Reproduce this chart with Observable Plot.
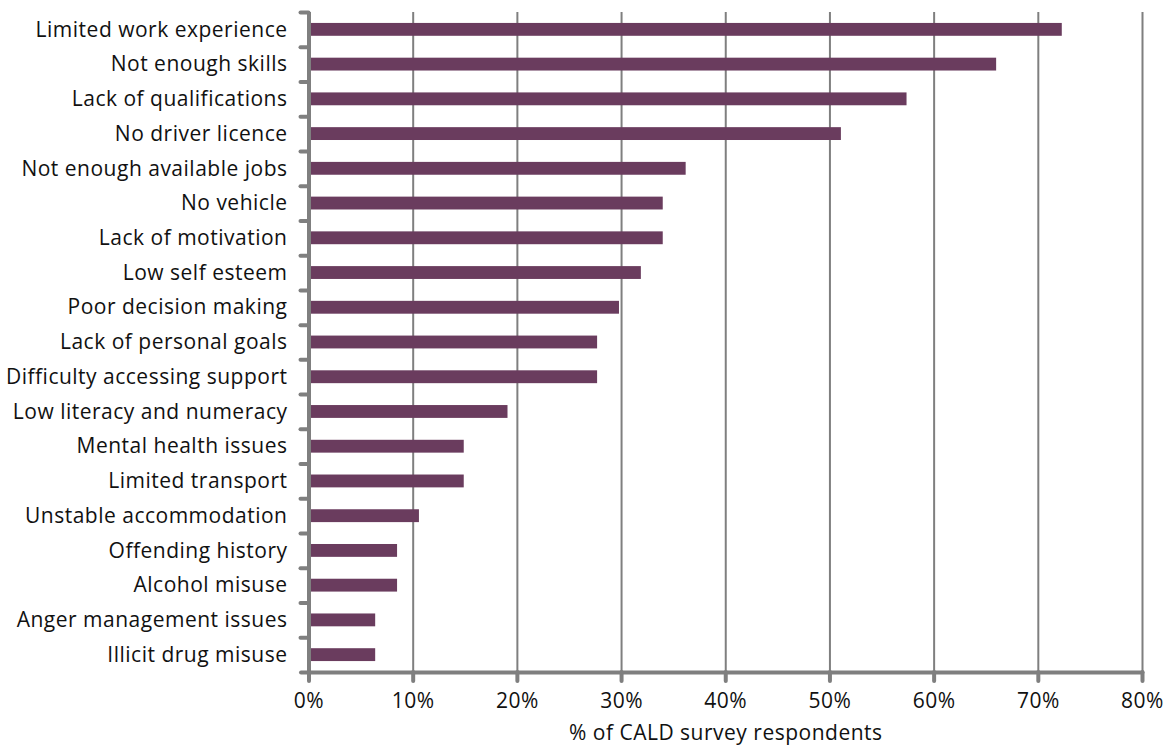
<!DOCTYPE html>
<html>
<head>
<meta charset="utf-8">
<script src="https://cdn.jsdelivr.net/npm/d3@7"></script>
<script src="https://cdn.jsdelivr.net/npm/@observablehq/plot@0.6"></script>
<style>
  html, body { margin: 0; padding: 0; background: #fff; }
  #chart svg text { letter-spacing: 0.5px; }
</style>
</head>
<body>
<div id="chart"></div>
<script>
// Barriers to employment reported by CALD survey respondents
const categories = [
  "Limited work experience",
  "Not enough skills",
  "Lack of qualifications",
  "No driver licence",
  "Not enough available jobs",
  "No vehicle",
  "Lack of motivation",
  "Low self esteem",
  "Poor decision making",
  "Lack of personal goals",
  "Difficulty accessing support",
  "Low literacy and numeracy",
  "Mental health issues",
  "Limited transport",
  "Unstable accommodation",
  "Offending history",
  "Alcohol misuse",
  "Anger management issues",
  "Illicit drug misuse"
];
const values = [72.3, 66.0, 57.4, 51.1, 36.2, 34.0, 34.0, 31.9, 29.8, 27.7, 27.7, 19.1, 14.9, 14.9, 10.6, 8.5, 8.5, 6.4, 6.4];
const xTicks = [0, 10, 20, 30, 40, 50, 60, 70, 80];
const xLabel = "% of CALD survey respondents";

const rows = categories.map((category, i) => ({category, value: values[i]}));

const width = 1172, height = 745;
const marginTop = 12, marginBottom = 73, marginLeft = 308.5, marginRight = 30;
const step = (height - marginTop - marginBottom) / categories.length;
const axisGrey = "#7f7f7f";
const barColor = "#6a3c5e";
const textColor = "#111";

const chart = Plot.plot({
  width, height, marginTop, marginBottom, marginLeft, marginRight,
  style: {fontFamily: "'Open Sans', sans-serif", fontSize: "21px", color: textColor, background: "#fff"},
  x: {domain: [0, 80]},
  y: {domain: categories, paddingInner: 0.63, paddingOuter: 0.315, round: false},
  marks: [
    Plot.gridX({ticks: xTicks.slice(1), stroke: axisGrey, strokeOpacity: 1, strokeWidth: 2}),
    Plot.barX(rows, {x: "value", y: "category", fill: barColor}),
    // category boundary ticks on the left axis
    Plot.axisY({tickSize: 8, tickFormat: () => "", dy: -step / 2, stroke: axisGrey, strokeWidth: 4, strokeLinecap: "round", label: null}),
    // category labels
    Plot.axisY({tickSize: 0, tickPadding: 21.5, label: null, fill: textColor}),
    Plot.ruleX([0], {stroke: axisGrey, strokeWidth: 4}),
    Plot.frame({anchor: "bottom", insetLeft: -8, stroke: axisGrey, strokeWidth: 4, strokeLinecap: "round"}),
    Plot.axisX({ticks: xTicks, tickFormat: d => d + "%", tickSize: 9, tickPadding: 12, stroke: axisGrey, strokeWidth: 4, strokeLinecap: "round", label: null, fill: textColor}),
    Plot.text([xLabel], {frameAnchor: "bottom", dy: 60.5, lineAnchor: "middle", fill: textColor, fontSize: 21})
  ]
});

document.getElementById("chart").appendChild(chart);
</script>
</body>
</html>
